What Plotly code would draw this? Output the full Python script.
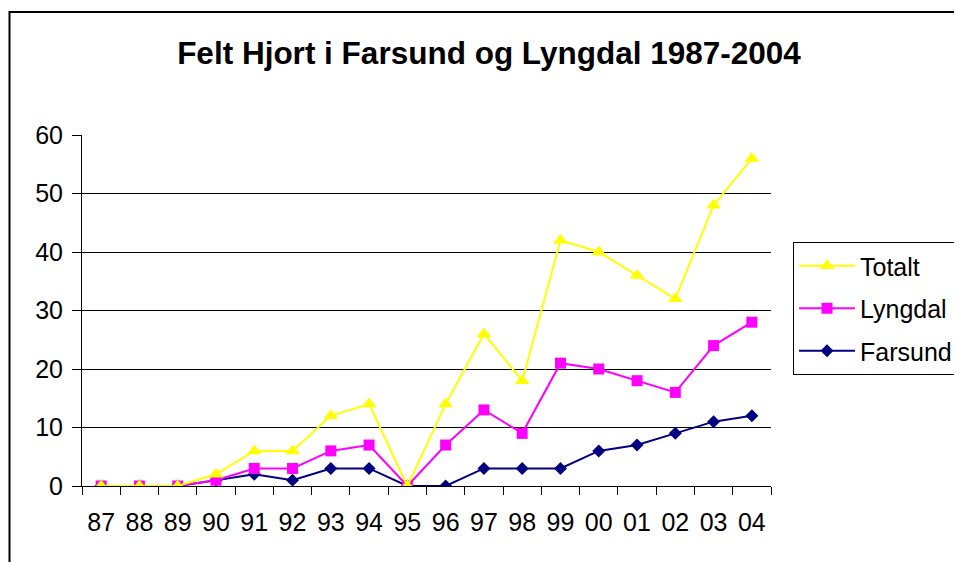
import plotly.graph_objects as go

years = ["87", "88", "89", "90", "91", "92", "93", "94", "95", "96",
         "97", "98", "99", "00", "01", "02", "03", "04"]
farsund = [0, 0, 0, 1, 2, 1, 3, 3, 0, 0, 3, 3, 3, 6, 7, 9, 11, 12]
lyngdal = [0, 0, 0, 1, 3, 3, 6, 7, 0, 7, 13, 9, 21, 20, 18, 16, 24, 28]
totalt = [0, 0, 0, 2, 6, 6, 12, 14, 0, 14, 26, 18, 42, 40, 36, 32, 48, 56]
y_ticks = [0, 10, 20, 30, 40, 50, 60]

FONT = "Arial, 'Liberation Sans', sans-serif"

fig = go.Figure()
fig.add_trace(go.Scatter(
    x=years, y=farsund, name="Farsund", mode="lines+markers", legendgroup="f",
    legendrank=3,
    line=dict(color="#000080", width=2),
    marker=dict(symbol="diamond", size=10, color="#000080")))
fig.add_trace(go.Scatter(
    x=years, y=lyngdal, name="Lyngdal", mode="lines+markers", legendgroup="l",
    legendrank=2,
    line=dict(color="#FF00FF", width=2),
    marker=dict(symbol="square", size=11, color="#FF00FF")))
fig.add_trace(go.Scatter(
    x=years, y=totalt, name="Totalt", mode="lines+markers", legendgroup="t",
    legendrank=1,
    line=dict(color="#FFFF00", width=2),
    marker=dict(symbol="triangle-up", size=13, color="#FFFF00")))

# page body has an 8px margin; work in reference pixel coordinates minus OFF
OFF = 8
W, H = 962 - OFF, 562 - OFF
L = 82 - OFF
T = 135 - OFF
R = W - (771 - OFF)
B = H - (486 - OFF)
pw, ph = W - L - R, H - T - B


def px_x(x):
    return ((x - OFF) - L) / pw


def px_y(y):
    return (H - B - (y - OFF)) / ph


fig.update_layout(
    width=W, height=H,
    margin=dict(l=L, r=R, t=T, b=B, autoexpand=False),
    paper_bgcolor="white", plot_bgcolor="white",
    font=dict(family=FONT, color="black", size=25),
    title=dict(text="<b>Felt Hjort i Farsund og Lyngdal 1987-2004</b>",
               x=(489 - OFF) / W, xanchor="center", xref="container",
               y=1 - (53 - OFF) / H, yanchor="middle", yref="container",
               font=dict(family=FONT, size=31.5, color="black")),
    showlegend=True,
    legend=dict(x=px_x(793), xanchor="left",
                y=px_y(242), yanchor="top",
                bordercolor="black", borderwidth=1, bgcolor="white",
                font=dict(family=FONT, size=25, color="black"),
                traceorder="grouped", tracegroupgap=7,
                itemwidth=56),
    xaxis=dict(type="category", range=[-0.5, len(years) - 0.5],
               tickson="boundaries", ticks="outside", ticklen=8,
               tickcolor="black", showline=True, linecolor="black",
               linewidth=1, showgrid=False, zeroline=False,
               ticklabelstandoff=14, fixedrange=True),
    yaxis=dict(range=[0, 60], tickvals=y_ticks, ticks="outside", ticklen=9,
               tickcolor="black", showline=True, linecolor="black",
               linewidth=1, showgrid=True, gridcolor="black", gridwidth=1,
               zeroline=False, ticklabelstandoff=4, fixedrange=True),
    shapes=[dict(type="rect", xref="paper", yref="paper",
                 x0=px_x(9.5), x1=2, y0=-1, y1=px_y(12),
                 line=dict(color="black", width=2), layer="below")],
)

fig.write_html("out.html")
